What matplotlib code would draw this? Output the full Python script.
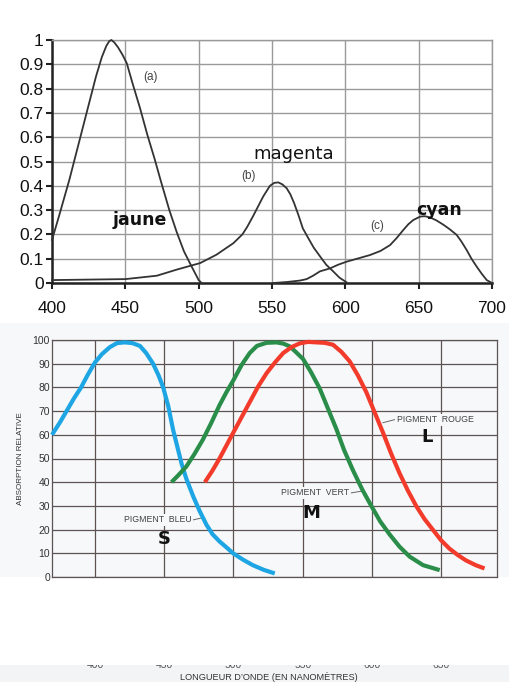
import numpy as np
import matplotlib
matplotlib.use("Agg")
import matplotlib.pyplot as plt
from matplotlib.patches import Rectangle

# ---------------- data: top chart (filter absorption) ----------------
jaune_x = [400, 405, 411.8, 420, 425, 430, 434, 437, 439, 440.5, 442.5, 445, 448, 451, 455, 460, 465, 470, 474, 480, 485, 490, 495, 500, 502]
jaune_y = [0.177, 0.28, 0.424, 0.616, 0.733, 0.85, 0.93, 0.975, 0.995, 1.0, 0.99, 0.97, 0.94, 0.904, 0.82, 0.72, 0.61, 0.51, 0.424, 0.30, 0.21, 0.13, 0.07, 0.012, 0.0]

magenta_x = [400, 450, 471.5, 485, 501, 512, 523.7, 529.8, 533, 537, 544, 548.6, 551.5, 554.3, 557, 560, 562.5, 565, 568, 571, 574.7, 578.5, 582.7, 587, 591.7, 596, 600.8]
magenta_y = [0.012, 0.016, 0.03, 0.055, 0.082, 0.116, 0.164, 0.20, 0.23, 0.274, 0.356, 0.40, 0.412, 0.414, 0.406, 0.39, 0.365, 0.33, 0.28, 0.225, 0.185, 0.145, 0.11, 0.075, 0.048, 0.022, 0.003]

cyan_x = [551, 560, 569, 573.6, 578, 582.7, 589.5, 595, 601, 608, 616.8, 624, 630.5, 635, 639.5, 643, 646.3, 650.9, 654, 657.7, 662, 666.8, 671, 675.9, 679, 682.7, 686, 689.6, 693, 696.4, 700]
cyan_y = [0.0, 0.004, 0.01, 0.016, 0.03, 0.048, 0.06, 0.075, 0.088, 0.1, 0.115, 0.132, 0.156, 0.185, 0.218, 0.242, 0.259, 0.273, 0.275, 0.27, 0.258, 0.24, 0.222, 0.198, 0.172, 0.136, 0.1, 0.067, 0.038, 0.012, 0.0]

top_xticks = [400, 450, 500, 550, 600, 650, 700]
top_yticks = [0, 0.1, 0.2, 0.3, 0.4, 0.5, 0.6, 0.7, 0.8, 0.9, 1]
top_yticklabels = ["0", "0.1", "0.2", "0.3", "0.4", "0.5", "0.6", "0.7", "0.8", "0.9", "1"]

# ---------------- data: bottom chart (cone pigments) ----------------
bleu_x = [369, 375, 380, 385, 390, 395, 400, 405, 410.8, 416, 421.6, 427, 432.5, 437, 442, 446, 449.3, 453, 456.5, 459.5, 462.5, 466, 471, 475.5, 480.6, 485, 490, 495, 499.8, 507, 514, 522, 529.9]
bleu_y = [60, 65.5, 70.5, 75.5, 80, 85.5, 90.5, 94, 97, 98.7, 99, 98.7, 97.5, 94.5, 90, 85, 80, 72, 62, 55, 48, 41.5, 34, 28, 22, 18, 15, 12.5, 10, 7.3, 5, 3, 1.5]

vert_x = [455.3, 460, 466, 472, 478, 484, 490, 495, 500, 506, 511.8, 517, 523.8, 531, 536, 540.7, 545, 550.3, 556, 562.3, 568, 574.4, 580, 586.4, 593, 599.6, 606, 612.8, 620, 627.3, 637, 649]
vert_y = [40, 42.8, 46.6, 52, 58, 65, 72.5, 78, 83, 89.5, 94.5, 97.5, 98.8, 99, 98.5, 97.3, 95, 92, 86.5, 79.6, 71.5, 62.4, 53.5, 45, 37, 30, 23.5, 18, 12.8, 8.6, 5, 2.9]

rouge_x = [479.4, 485, 490, 495, 500, 506, 512, 518, 524, 530, 536, 542, 548, 554, 560, 566, 572, 578, 584, 590, 596, 602, 608, 614, 620, 626, 632, 638, 644, 650, 656, 662, 668, 675, 681.4]
rouge_y = [40, 45, 50, 55.5, 61, 67.5, 74, 80.5, 86, 90.5, 94.5, 97, 98.6, 99.2, 99, 98.8, 98, 95, 91, 85, 78, 69.5, 61, 52, 43.8, 36.5, 30, 24.5, 20, 15.5, 12, 9.3, 7, 5, 3.6]

bot_xticks = [400, 450, 500, 550, 600, 650]
bot_yticks = [0, 10, 20, 30, 40, 50, 60, 70, 80, 90, 100]

W, H = 509, 682
fig = plt.figure(figsize=(W / 100, H / 100), dpi=100)
fig.patch.set_facecolor("white")

def fx(px):
    return px / W

def fy(py):
    return 1 - py / H

SANS = ["Liberation Sans", "DejaVu Sans"]

# ---------------- top chart ----------------
ax1 = fig.add_axes([fx(52), fy(283), 440 / W, 243 / H])
ax1.set_xlim(400, 700)
ax1.set_ylim(0, 1)
ax1.set_xticks(top_xticks)
ax1.set_yticks(top_yticks)
ax1.set_yticklabels(top_yticklabels)
ax1.grid(True, color="#9a9a9a", lw=1.0)
ax1.set_axisbelow(True)
for s in ["top", "right"]:
    ax1.spines[s].set_color("#9a9a9a")
    ax1.spines[s].set_linewidth(1.0)
for s in ["left", "bottom"]:
    ax1.spines[s].set_color("#222222")
    ax1.spines[s].set_linewidth(1.8)
ax1.tick_params(axis="both", direction="out", length=4, width=1.5, color="#222222",
                labelsize=12.5, labelcolor="#111111")
ax1.tick_params(axis="y", pad=2)
ax1.tick_params(axis="x", pad=9)
for lab in ax1.get_xticklabels() + ax1.get_yticklabels():
    lab.set_family(SANS)

for xs, ys in [(jaune_x, jaune_y), (magenta_x, magenta_y), (cyan_x, cyan_y)]:
    ax1.plot(xs, ys, color="#333333", lw=1.3, clip_on=False, zorder=3,
             solid_joinstyle="round")

ax1.text(467, 0.847, "(a)", fontsize=8.5, color="#444444", family=SANS, ha="center", va="center")
ax1.text(534, 0.44, "(b)", fontsize=8.5, color="#444444", family=SANS, ha="center", va="center")
ax1.text(622, 0.236, "(c)", fontsize=8.5, color="#444444", family=SANS, ha="center", va="center")
ax1.text(564.5, 0.53, "magenta", fontsize=13, color="#111111", family="DejaVu Sans", ha="center", va="center")
ax1.text(459.7, 0.26, "jaune", fontsize=12.5, weight="bold", color="#111111", family="DejaVu Sans", ha="center", va="center")
ax1.text(664, 0.30, "cyan", fontsize=12.5, weight="bold", color="#111111", family="DejaVu Sans", ha="center", va="center")

# ---------------- bottom chart background ----------------
bg = Rectangle((0, fy(577)), 1, (577 - 323) / H, transform=fig.transFigure,
               facecolor="#f6f8fa", edgecolor="none", zorder=-5)
fig.patches.append(bg)

ax2 = fig.add_axes([fx(52), fy(577), 445 / W, 237 / H])
ax2.set_zorder(2)
ax2.set_facecolor("#f6f8fa")
ax2.set_xlim(369.0, 690.4)
ax2.set_ylim(0, 100)
ax2.set_xticks(bot_xticks)
ax2.set_yticks(bot_yticks)
ax2.set_xticklabels([])
ax2.grid(True, color="#5e5252", lw=0.9)
ax2.set_axisbelow(True)
for s in ax2.spines.values():
    s.set_color("#5e5252")
    s.set_linewidth(0.9)
ax2.tick_params(axis="both", length=0, labelsize=7.5, labelcolor="#333333")
ax2.tick_params(axis="y", pad=1.5)
for lab in ax2.get_yticklabels():
    lab.set_family(SANS)
ax2.set_ylabel("ABSORPTION RELATIVE", fontsize=5.8, color="#333333", family=SANS, labelpad=6)

line_kw = dict(lw=3.0, solid_capstyle="butt", solid_joinstyle="round", clip_on=False)
ax2.plot(bleu_x, bleu_y, color="#1ea5e3", zorder=3, **line_kw)
ax2.plot(vert_x, vert_y, color="#2a8e4a", zorder=3, **line_kw)
ax2.plot(rouge_x, rouge_y, color="#f23b2b", zorder=4, **line_kw)

lab_kw = dict(fontsize=6.3, color="#444444", family=SANS, va="center",
              bbox=dict(facecolor="#f6f8fa", edgecolor="none", pad=1.0))
ax2.text(618, 66.4, "PIGMENT  ROUGE", ha="left", **lab_kw)
ax2.text(583.5, 35.5, "PIGMENT  VERT", ha="right", **lab_kw)
ax2.text(470, 24.1, "PIGMENT  BLEU", ha="right", **lab_kw)
ax2.plot([608, 616.5], [65.1, 66.4], color="#666666", lw=0.7)
ax2.plot([585.2, 592.4], [35.5, 36.2], color="#666666", lw=0.7)
ax2.plot([470.9, 478.6], [24.1, 25.1], color="#666666", lw=0.7)

big_kw = dict(fontsize=13, weight="bold", color="#111111", family="DejaVu Sans", ha="center", va="center")
ax2.text(640, 58.9, "L", **big_kw)
ax2.text(556.3, 26.9, "M", **big_kw)
ax2.text(450, 16.2, "S", **big_kw)

# ---------------- bottom band with cut-off tick labels ----------------
ax3 = fig.add_axes([0, 0, 1, 17 / H])
ax3.set_zorder(1)
ax3.set_xlim(400 - 95 * 50 / 69.3, 400 + 414 * 50 / 69.3)
ax3.set_ylim(0, 1)
ax3.axis("off")
ax3.add_patch(Rectangle((0, 0), 1, 1, transform=ax3.transAxes, facecolor="#f2f4f6", edgecolor="none"))
for t in bot_xticks:
    ax3.text(t, 0.82, str(t), fontsize=7.5, color="#555555", family=SANS,
             ha="center", va="baseline", clip_on=True)
ax3.text(0.5285, 0.31, "LONGUEUR D\u2019ONDE (EN NANOMÈTRES)", transform=ax3.transAxes,
         fontsize=6.6, color="#333333", family=SANS, ha="center", va="center")

# white mask hiding the upper part of the cut-off tick labels
ax_mask = fig.add_axes([0, fy(665), 1, (665 - 600) / H])
ax_mask.set_zorder(3)
ax_mask.axis("off")
ax_mask.add_patch(Rectangle((0, 0), 1, 1, transform=ax_mask.transAxes, facecolor="white", edgecolor="none"))

fig.savefig("out.png", dpi=100)
